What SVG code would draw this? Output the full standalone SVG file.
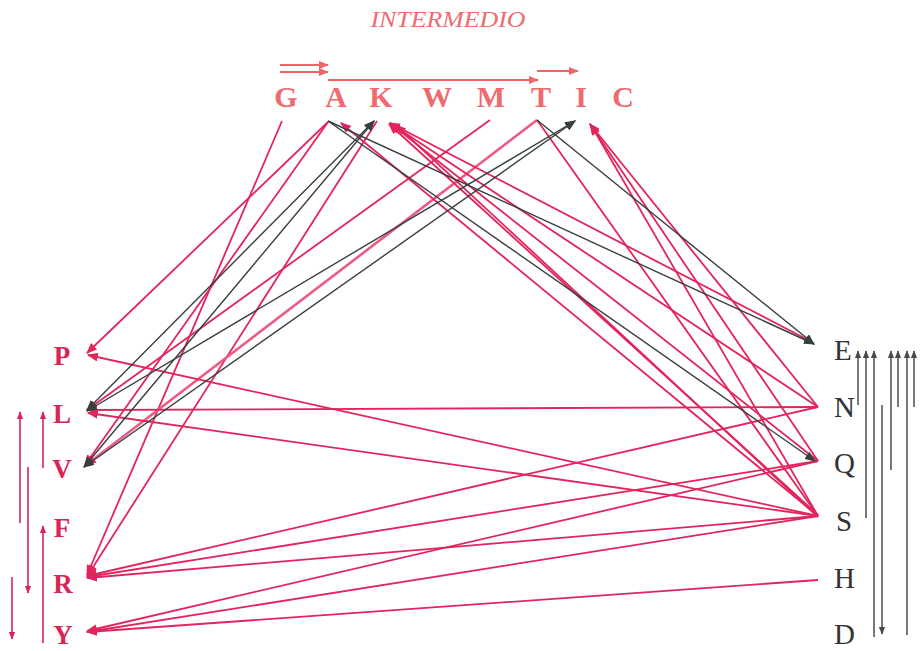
<svg xmlns="http://www.w3.org/2000/svg" width="920" height="651" viewBox="0 0 920 651">
  <style>
    .title { font-family: "Liberation Serif", "DejaVu Serif", serif; font-style: italic; font-size: 23px; fill: #ef6b70; }
    .top { font-family: "Liberation Serif", "DejaVu Serif", serif; font-weight: bold; font-size: 30px; fill: #ee6a6e; text-anchor: middle; }
    .left { font-family: "Liberation Serif", "DejaVu Serif", serif; font-weight: bold; font-size: 27px; fill: #d92458; text-anchor: middle; }
    .right { font-family: "Liberation Serif", "DejaVu Serif", serif; font-size: 29px; fill: #333333; }
    .r { stroke: #e3245d; stroke-width: 1.8; fill: none; }
    .ra { stroke: #e3245d; stroke-width: 1.8; fill: none; marker-end: url(#head-red); }
    .rt { stroke: #ee5a84; stroke-width: 2.6; fill: none; marker-end: url(#head-red); }
    .k { stroke: #36403c; stroke-width: 1.4; fill: none; marker-end: url(#head-dark); }
    .k2 { stroke: #36403c; stroke-width: 1.4; fill: none; marker-start: url(#head-dark); marker-end: url(#head-dark); }
    .s { stroke: #f06468; stroke-width: 1.8; fill: none; marker-end: url(#head-salmon); }
    .vl { stroke: #d92458; stroke-width: 1.6; fill: none; marker-end: url(#head-small-red); }
    .vr { stroke: #4a4a4a; stroke-width: 1.5; fill: none; marker-end: url(#head-small-dark); }
  </style>
  <defs>
    <marker id="head-red" viewBox="0 0 10 8" refX="9" refY="4" markerWidth="11" markerHeight="9" markerUnits="userSpaceOnUse" orient="auto">
      <path d="M0,0 L10,4 L0,8 z" fill="#e3245d"/>
    </marker>
    <marker id="head-dark" viewBox="0 0 10 8" refX="9" refY="4" markerWidth="11" markerHeight="9" markerUnits="userSpaceOnUse" orient="auto-start-reverse">
      <path d="M0,0 L10,4 L0,8 z" fill="#36403c"/>
    </marker>
    <marker id="head-salmon" viewBox="0 0 10 8" refX="9" refY="4" markerWidth="10" markerHeight="8" markerUnits="userSpaceOnUse" orient="auto">
      <path d="M0,0 L10,4 L0,8 z" fill="#f06468"/>
    </marker>
    <marker id="head-small-red" viewBox="0 0 10 8" refX="9" refY="4" markerWidth="8" markerHeight="7" markerUnits="userSpaceOnUse" orient="auto">
      <path d="M0,0 L10,4 L0,8 z" fill="#d92458"/>
    </marker>
    <marker id="head-small-dark" viewBox="0 0 10 8" refX="9" refY="4" markerWidth="8" markerHeight="7" markerUnits="userSpaceOnUse" orient="auto">
      <path d="M0,0 L10,4 L0,8 z" fill="#4a4a4a"/>
    </marker>
  </defs>

  <rect width="920" height="651" fill="#ffffff"/>

  <text class="title" x="448" y="27" text-anchor="middle" textLength="155" lengthAdjust="spacingAndGlyphs">INTERMEDIO</text>

  <!-- connectors -->
  <g id="connectors">
    <!-- arrows above the top row -->
    <line class="s" x1="280" y1="65" x2="328" y2="65"/>
    <line class="s" x1="280" y1="72" x2="328" y2="72"/>
    <line class="s" x1="328" y1="80" x2="538" y2="80"/>
    <line class="s" x1="537" y1="71" x2="578" y2="71"/>

    <!-- top row to left column -->
    <line class="ra" x1="282" y1="121" x2="87" y2="575"/>
    <line class="ra" x1="328" y1="122" x2="87" y2="353"/>
    <line class="ra" x1="328" y1="122" x2="85" y2="465"/>
    <line class="ra" x1="377" y1="121" x2="88" y2="575"/>
    <line class="ra" x1="490" y1="120" x2="87" y2="410"/>
    <line class="rt" x1="537" y1="120" x2="86" y2="465"/>

    <!-- right column to top row -->
    <line class="ra" x1="812" y1="342" x2="390" y2="123"/>
    <line class="ra" x1="818" y1="407" x2="390" y2="123"/>
    <line class="ra" x1="818" y1="461" x2="391" y2="124"/>
    <line class="ra" x1="818" y1="515" x2="389" y2="124"/>
    <line class="ra" x1="818" y1="517" x2="396" y2="125"/>
    <line class="ra" x1="818" y1="516" x2="341" y2="123"/>
    <line class="r" x1="818" y1="516" x2="537" y2="120"/>
    <line class="ra" x1="818" y1="407" x2="590" y2="124"/>
    <line class="ra" x1="818" y1="461" x2="590" y2="124"/>
    <line class="ra" x1="818" y1="516" x2="591" y2="125"/>

    <!-- right column to left column -->
    <line class="ra" x1="818" y1="407" x2="87" y2="410"/>
    <line class="ra" x1="818" y1="516" x2="88" y2="355"/>
    <line class="ra" x1="818" y1="516" x2="88" y2="413"/>
    <line class="ra" x1="818" y1="407" x2="87" y2="576"/>
    <line class="ra" x1="818" y1="461" x2="87" y2="577"/>
    <line class="ra" x1="818" y1="516" x2="87" y2="578"/>
    <line class="ra" x1="818" y1="461" x2="87" y2="631"/>
    <line class="ra" x1="818" y1="516" x2="87" y2="632"/>
    <line class="ra" x1="818" y1="580" x2="87" y2="632"/>

    <!-- dark connectors -->
    <line class="k" x1="328" y1="121" x2="814" y2="344"/>
    <line class="k" x1="328" y1="121" x2="815" y2="461"/>
    <line class="k" x1="537" y1="120" x2="814" y2="344"/>
    <line class="k2" x1="87" y1="410" x2="374" y2="121"/>
    <line class="k2" x1="84" y1="467" x2="374" y2="121"/>
    <line class="k2" x1="87" y1="411" x2="575" y2="121"/>
    <line class="k2" x1="84" y1="467" x2="575" y2="121"/>

    <!-- vertical arrows, left column -->
    <line class="vl" x1="20" y1="523" x2="20" y2="412"/>
    <line class="vl" x1="43" y1="468" x2="43" y2="412"/>
    <line class="vl" x1="28" y1="467" x2="28" y2="593"/>
    <line class="vl" x1="43" y1="643" x2="43" y2="526"/>
    <line class="vl" x1="12" y1="577" x2="12" y2="639"/>

    <!-- vertical arrows, right column -->
    <line class="vr" x1="858" y1="405" x2="858" y2="351"/>
    <line class="vr" x1="866" y1="518" x2="866" y2="351"/>
    <line class="vr" x1="874" y1="637" x2="874" y2="351"/>
    <line class="vr" x1="882" y1="405" x2="882" y2="634"/>
    <line class="vr" x1="891" y1="470" x2="891" y2="351"/>
    <line class="vr" x1="898" y1="407" x2="898" y2="351"/>
    <line class="vr" x1="907" y1="635" x2="907" y2="351"/>
    <line class="vr" x1="914" y1="407" x2="914" y2="351"/>
  </g>

  <!-- top row -->
  <g id="node-G"><text class="top" x="286" y="107">G</text></g>
  <g id="node-A"><text class="top" x="336" y="107">A</text></g>
  <g id="node-K"><text class="top" x="381" y="107">K</text></g>
  <g id="node-W"><text class="top" x="437" y="107">W</text></g>
  <g id="node-M"><text class="top" x="491" y="107">M</text></g>
  <g id="node-T"><text class="top" x="541" y="107">T</text></g>
  <g id="node-I"><text class="top" x="581" y="107">I</text></g>
  <g id="node-C"><text class="top" x="623" y="107">C</text></g>

  <!-- left column -->
  <g id="node-P"><text class="left" x="62" y="365">P</text></g>
  <g id="node-L"><text class="left" x="62" y="423">L</text></g>
  <g id="node-V"><text class="left" x="62" y="478">V</text></g>
  <g id="node-F"><text class="left" x="62" y="537">F</text></g>
  <g id="node-R"><text class="left" x="63" y="593">R</text></g>
  <g id="node-Y"><text class="left" x="63" y="644">Y</text></g>

  <!-- right column -->
  <g id="node-E"><text class="right" x="834" y="360">E</text></g>
  <g id="node-N"><text class="right" x="834" y="417">N</text></g>
  <g id="node-Q"><text class="right" x="834" y="473">Q</text></g>
  <g id="node-S"><text class="right" x="836" y="531">S</text></g>
  <g id="node-H"><text class="right" x="834" y="588">H</text></g>
  <g id="node-D"><text class="right" x="834" y="644">D</text></g>
</svg>
